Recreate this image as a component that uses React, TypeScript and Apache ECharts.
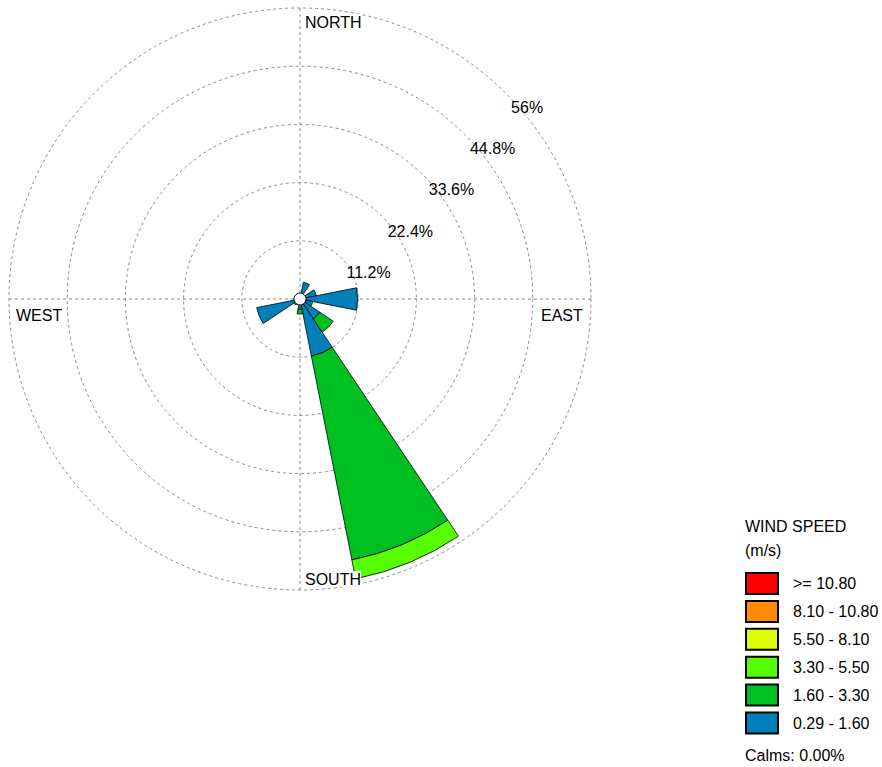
import React, { useEffect, useRef } from "react";
import * as echarts from "echarts";

const directions = ["N", "NNE", "NE", "ENE", "E", "ESE", "SE", "SSE", "S", "SSW", "SW", "WSW", "W", "WNW", "NW", "NNW"];

// frequency (%) per direction and speed class
const speed029to160 = [null, 3.3, null, 3.2, 11.1, 2.5, 4.6, 11.2, 2.0, null, 0.6, 8.5, null, null, null, null];
const speed160to330 = [null, null, null, null, null, null, 3.1, 40.0, 0.9, null, 0.8, null, null, null, null, null];
const speed330to550 = [null, null, null, null, null, null, null, 3.7, null, null, null, null, null, null, null, null];
const speed550to810 = [null, null, null, null, null, null, null, null, null, null, null, null, null, null, null, null];
const speed810to1080 = [null, null, null, null, null, null, null, null, null, null, null, null, null, null, null, null];
const speedAbove1080 = [null, null, null, null, null, null, null, null, null, null, null, null, null, null, null, null];

const classNames = ["0.29 - 1.60", "1.60 - 3.30", "3.30 - 5.50", "5.50 - 8.10", "8.10 - 10.80", ">= 10.80"];
const classColors = ["#0080BB", "#00BF20", "#55FF00", "#DDFF00", "#FF8C00", "#FF0000"];
const classData = [speed029to160, speed160to330, speed330to550, speed550to810, speed810to1080, speedAbove1080];

const radiusMax = 56;
const radiusStep = 11.2;
const calms = "0.00%";

const FONT = "Liberation Sans, Arial, sans-serif";

export default function App() {
  const ref = useRef<HTMLDivElement>(null);
  useEffect(() => {
    if (!ref.current) return;
    const chart = echarts.init(ref.current, null, { renderer: "svg" });
    const center = [300, 299];
    const radius = 291;
    const dash = { color: "#8a8a8a", width: 1, type: [3, 3] as any };

    const barSeries = classNames.map((name, i) => ({
      type: "bar",
      name,
      coordinateSystem: "polar",
      polarIndex: 0,
      stack: "wind",
      barCategoryGap: "0%",
      data: classData[i],
      itemStyle: { color: classColors[i], borderColor: "#000", borderWidth: 0.8 },
      z: 3,
    }));

    const labelText = (text: string, left: number, top: number) => ({
      type: "text",
      left,
      top,
      z: 100,
      style: {
        text,
        fill: "#000",
        font: `16px ${FONT}`,
        backgroundColor: "#fff",
      },
    });

    chart.setOption({
      animation: false,
      backgroundColor: "#fff",
      textStyle: { fontFamily: FONT },
      title: [
        {
          text: "WIND SPEED\n(m/s)",
          left: 745,
          top: 514,
          padding: 0,
          textStyle: { fontSize: 16, fontWeight: "normal", color: "#000", lineHeight: 24, fontFamily: FONT },
        },
        {
          text: "Calms: " + calms,
          left: 745,
          top: 747,
          padding: 0,
          textStyle: { fontSize: 16, fontWeight: "normal", color: "#000", lineHeight: 16, fontFamily: FONT },
        },
      ],
      legend: {
        data: [...classNames].reverse(),
        orient: "vertical",
        left: 745,
        top: 572,
        padding: 0,
        itemWidth: 32,
        itemHeight: 21,
        itemGap: 4.9,
        icon: "rect",
        selectedMode: false,
        textStyle: { fontSize: 16, color: "#000", fontFamily: FONT, padding: [0, 0, 0, 10] },
      },
      polar: [
        { center, radius },
        { center, radius },
        { center, radius },
      ],
      angleAxis: [
        {
          polarIndex: 0,
          type: "category",
          data: directions,
          startAngle: 90 + 360 / 32,
          axisLine: { show: false },
          axisTick: { show: false },
          axisLabel: { show: false },
          splitLine: { show: false },
        },
        {
          polarIndex: 1,
          type: "value",
          min: 0,
          max: 360,
          interval: 90,
          startAngle: 90,
          axisLine: { show: false },
          axisTick: { show: false },
          axisLabel: { show: false },
          splitLine: { show: true, lineStyle: dash },
        },
        {
          polarIndex: 2,
          type: "value",
          min: 0,
          max: 360,
          startAngle: 45,
          axisLine: { show: false },
          axisTick: { show: false },
          axisLabel: { show: false },
          splitLine: { show: false },
        },
      ],
      radiusAxis: [
        {
          polarIndex: 0,
          type: "value",
          min: 0,
          max: radiusMax,
          axisLine: { show: false },
          axisTick: { show: false },
          axisLabel: { show: false },
          splitLine: { show: false },
        },
        {
          polarIndex: 1,
          type: "value",
          min: 0,
          max: radiusMax,
          interval: radiusStep,
          axisLine: { show: false },
          axisTick: { show: false },
          axisLabel: { show: false },
          splitLine: { show: true, lineStyle: dash },
        },
        {
          polarIndex: 2,
          type: "value",
          min: 0,
          max: radiusMax,
          interval: radiusStep,
          axisLine: { show: false },
          axisTick: { show: false },
          splitLine: { show: false },
          axisLabel: {
            show: true,
            showMinLabel: false,
            align: "left",
            verticalAlign: "top",
            margin: 8,
            padding: [12, 0, 0, 11],
            fontSize: 16,
            color: "#000",
            fontFamily: FONT,
            formatter: (v: number) => `${+Number(v).toFixed(1)}%`,
          },
        },
      ],
      series: [
        ...barSeries,
        {
          type: "scatter",
          coordinateSystem: "polar",
          polarIndex: 0,
          data: [[0, "N"]],
          symbolSize: 12,
          itemStyle: { color: "#fff", opacity: 1, borderColor: "#000", borderWidth: 1 },
          z: 10,
          silent: true,
        },
      ],
      graphic: [
        labelText("NORTH", 305, 14),
        labelText("SOUTH", 305, 571),
        labelText("WEST", 16, 307),
        labelText("EAST", 541, 307),
      ],
    });
    return () => chart.dispose();
  }, []);
  return <div ref={ref} style={{ position: "fixed", left: 0, top: 0, width: 882, height: 767 }} />;
}
